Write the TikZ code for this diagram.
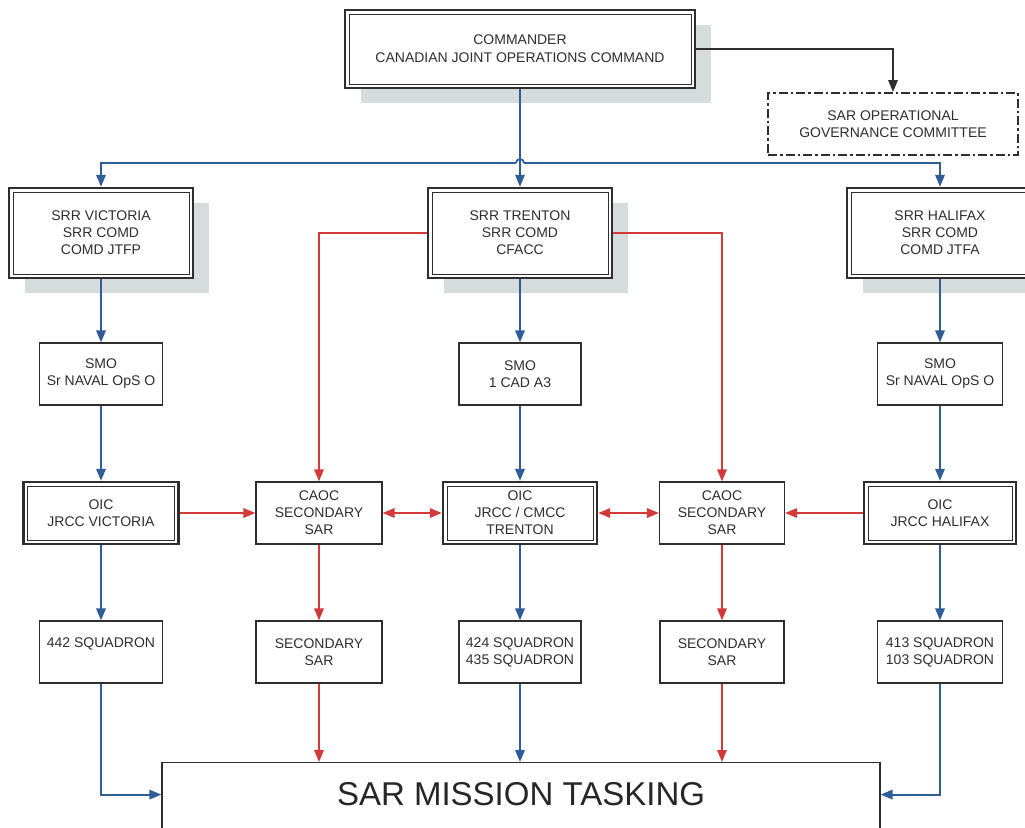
\documentclass[tikz,border=0pt]{standalone}
\usepackage{fontspec}
\setmainfont{Liberation Sans}
\usetikzlibrary{arrows.meta,shadows,calc}
\definecolor{dk}{HTML}{2E2E2E}
\definecolor{bl}{HTML}{2F5D98}
\definecolor{rd}{HTML}{D23A3A}
\definecolor{shg}{HTML}{D6DCDC}
\tikzset{
  box/.style={draw=dk, line width=1.2pt, fill=white, text=dk, align=center, inner sep=0pt,
    font=\fontsize{14}{17}\selectfont},
  dbox/.style={box, line width=2.4pt,
    path picture={\draw[dk,line width=1pt] ([shift={(4pt,-4pt)}]path picture bounding box.north west) rectangle ([shift={(-4pt,4pt)}]path picture bounding box.south east);}},
  shadowed/.style={drop shadow={shadow xshift=16pt,shadow yshift=-15pt,fill=shg,opacity=1}},
  govbox/.style={draw=dk, line width=2pt, dash pattern=on 9pt off 3pt on 2.5pt off 3pt, fill=white,
    text=dk, align=center, inner sep=0pt, font=\fontsize{14}{17}\selectfont},
  taskbox/.style={draw=dk, line width=1.2pt, fill=white, text=black!85, inner xsep=0pt, inner ysep=0pt,
    minimum width=718pt, text height=43pt, text depth=37pt, font=\fontsize{33}{36}\selectfont},
  tip/.tip={Triangle[length=12pt,width=9.5pt]},
  ba/.style={bl, line width=1.8pt, -tip},
  ra/.style={rd, line width=1.7pt, -tip},
  rda/.style={rd, line width=1.7pt, tip-tip},
  ka/.style={dk, line width=1.7pt, -tip},
}
\begin{document}
\begin{tikzpicture}[x=1pt,y=-1pt]
\useasboundingbox (0,0) rectangle (1025,827);
\clip (0,0) rectangle (1025,827);
% top
\node[dbox,shadowed,minimum width=350pt,minimum height=78pt] (cmd) at (520,49)
  {COMMANDER\\[1pt] CANADIAN JOINT OPERATIONS COMMAND};
\node[govbox,minimum width=250pt,minimum height=62pt] (gov) at (893,124)
  {SAR OPERATIONAL\\ GOVERNANCE COMMITTEE};
% SRR row
\node[dbox,shadowed,minimum width=184pt,minimum height=90pt] (vic) at (101,233)
  {SRR VICTORIA\\ SRR COMD\\ COMD JTFP};
\node[dbox,shadowed,minimum width=184pt,minimum height=90pt] (trn) at (520,233)
  {SRR TRENTON\\ SRR COMD\\ CFACC};
\node[dbox,shadowed,minimum width=186pt,minimum height=90pt] (hal) at (940,233)
  {SRR HALIFAX\\ SRR COMD\\ COMD JTFA};
% SMO row
\node[box,minimum width=123pt,minimum height=62pt] (smoV) at (101,374) {SMO\\ Sr NAVAL OpS O};
\node[box,minimum width=122pt,minimum height=62pt] (smoT) at (520,374) {SMO\\ 1 CAD A3};
\node[box,minimum width=125pt,minimum height=62pt] (smoH) at (940,374) {SMO\\ Sr NAVAL OpS O};
% OIC row
\node[dbox,minimum width=155pt,minimum height=62pt] (oicV) at (101,513) {OIC\\ JRCC VICTORIA};
\node[box,minimum width=126pt,minimum height=62pt] (caocL) at (319,513) {CAOC\\ SECONDARY\\ SAR};
\node[dbox,minimum width=154pt,minimum height=62pt] (oicT) at (520,513) {OIC\\ JRCC / CMCC\\ TRENTON};
\node[box,minimum width=125pt,minimum height=62pt] (caocR) at (722,513) {CAOC\\ SECONDARY\\ SAR};
\node[dbox,minimum width=152pt,minimum height=62pt] (oicH) at (940,513) {OIC\\ JRCC HALIFAX};
% squadron row
\node[box,minimum width=123pt,minimum height=62pt,text height=10pt,text depth=19pt] (sq442) at (101,652) {442 SQUADRON};
\node[box,minimum width=126pt,minimum height=62pt] (secL) at (319,652) {SECONDARY\\ SAR};
\node[box,minimum width=122pt,minimum height=62pt] (sq424) at (520,652) {424 SQUADRON\\ 435 SQUADRON};
\node[box,minimum width=124pt,minimum height=62pt] (secR) at (722,652) {SECONDARY\\ SAR};
\node[box,minimum width=125pt,minimum height=62pt] (sq413) at (940,652) {413 SQUADRON\\ 103 SQUADRON};
% tasking
\node[taskbox,anchor=north] (task) at (521,762) {SAR MISSION TASKING};
% connectors: top
\draw[ka] (cmd.east) -| (gov.north);
\coordinate (bus) at (520,163);
\draw[ba] (cmd.south) -- (trn.north);
\draw[bl,line width=1.8pt] ([xshift=-4pt]bus) arc[start angle=180,end angle=0,radius=4pt];
\draw[ba] ([xshift=-4pt]bus) -| (vic.north);
\draw[ba] ([xshift=4pt]bus) -| (hal.north);
% blue columns
\draw[ba] (vic.south) -- (smoV.north);
\draw[ba] (smoV.south) -- (oicV.north);
\draw[ba] (oicV.south) -- (sq442.north);
\draw[ba] (trn.south) -- (smoT.north);
\draw[ba] (smoT.south) -- (oicT.north);
\draw[ba] (oicT.south) -- (sq424.north);
\draw[ba] (hal.south) -- (smoH.north);
\draw[ba] (smoH.south) -- (oicH.north);
\draw[ba] (oicH.south) -- (sq413.north);
\draw[ba] (sq442.south) |- ([yshift=8pt]task.west);
\draw[ba] (sq424.south) -- (sq424.south |- task.north);
\draw[ba] (sq413.south) |- ([yshift=8pt]task.east);
% red
\draw[ra] (trn.west) -| (caocL.north);
\draw[ra] (trn.east) -| (caocR.north);
\draw[ra] (oicV.east) -- (caocL.west);
\draw[rda] (caocL.east) -- (oicT.west);
\draw[rda] (oicT.east) -- (caocR.west);
\draw[ra] (oicH.west) -- (caocR.east);
\draw[ra] (caocL.south) -- (secL.north);
\draw[ra] (caocR.south) -- (secR.north);
\draw[ra] (secL.south) -- (secL.south |- task.north);
\draw[ra] (secR.south) -- (secR.south |- task.north);
\end{tikzpicture}
\end{document}
